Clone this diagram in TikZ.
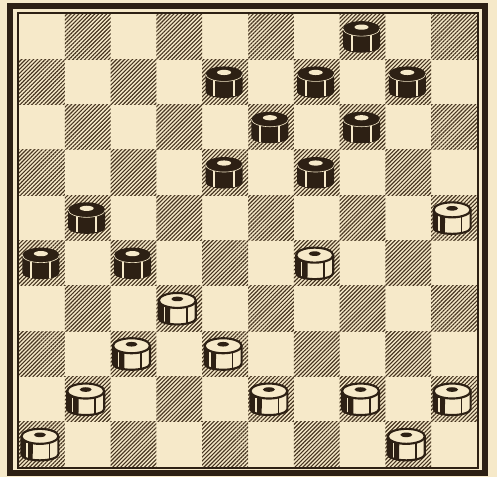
\documentclass[tikz,border=0pt]{standalone}
\usetikzlibrary{patterns.meta}
\definecolor{paper}{RGB}{246,233,201}
\definecolor{ink}{RGB}{45,32,20}
\definecolor{hatch}{RGB}{70,52,32}
\tikzset{
  darksq/.style={pattern={Lines[angle=45,distance=2.1pt,line width=0.85pt]},pattern color=hatch},
  blackman/.pic={
    \fill[ink] (-18.5,8) -- (-18.5,-10) arc[start angle=180,end angle=360,x radius=18.5,y radius=6] -- (18.5,8) -- cycle;
    \draw[paper,line width=1.5pt] (-10,1.5) -- (-10,-14.5);
    \draw[paper,line width=1.5pt] (9.5,1.5) -- (9.5,-14.5);
    \fill[ink] (0,8) ellipse[x radius=18.5,y radius=7.5];
    \draw[paper,line width=0.45pt] (-18.5,8) arc[start angle=180,end angle=360,x radius=18.5,y radius=7.5];
    \fill[paper] (0,9.5) ellipse[x radius=7,y radius=2.6];
  },
  whiteman/.pic={
    \fill[paper] (-18.5,8) -- (-18.5,-10) arc[start angle=180,end angle=360,x radius=18.5,y radius=6] -- (18.5,8) -- cycle;
    \fill[ink] (-18.5,8) -- (-18.5,-10) arc[start angle=180,end angle=247,x radius=18.5,y radius=6] -- (-7,3) -- cycle;
    \draw[paper,line width=1.1pt] (-13,1.5) -- (-13,-14);
    \draw[ink,line width=1.1pt] (9.5,1.5) -- (9.5,-15);
    \draw[ink,line width=1.6pt] (-18.5,8) -- (-18.5,-10) arc[start angle=180,end angle=360,x radius=18.5,y radius=6] -- (18.5,8);
    \filldraw[fill=paper,draw=ink,line width=1.6pt] (0,8) ellipse[x radius=18.5,y radius=7.5];
    \fill[ink] (0,9.5) ellipse[x radius=6,y radius=2.3];
  }
}
\begin{document}
\begin{tikzpicture}[x=0.75pt,y=0.75pt]
\useasboundingbox (0,0) rectangle (497,477);
\fill[paper] (0,0) rectangle (497,477);
% hatched squares
\foreach \r in {0,...,9}{
  \foreach \c in {0,...,9}{
    \pgfmathtruncatemacro{\odd}{mod(\r+\c,2)}
    \ifnum\odd=1
      \fill[darksq] ({19+\c*45.8},{463-(\r+1)*45.3}) rectangle ({19+(\c+1)*45.8},{463-\r*45.3});
    \fi
  }
}
% borders
\draw[ink,line width=1.5pt] (18,9) rectangle (478,464);
\draw[ink,line width=4.5pt] (10,3.5) rectangle (484.5,471);
% black pieces
\foreach \r/\c in {0/7,1/4,1/6,1/8,2/5,2/7,3/4,3/6,4/1,5/0,5/2}
  \pic at ({19+(\c+0.5)*45.8-1},{463-(\r+0.5)*45.3}) {blackman};
% white pieces
\foreach \r/\c in {4/9,5/6,6/3,7/2,7/4,8/1,8/5,8/7,8/9,9/0,9/8}
  \pic at ({19+(\c+0.5)*45.8-2},{463-(\r+0.5)*45.3}) {whiteman};
\end{tikzpicture}
\end{document}
